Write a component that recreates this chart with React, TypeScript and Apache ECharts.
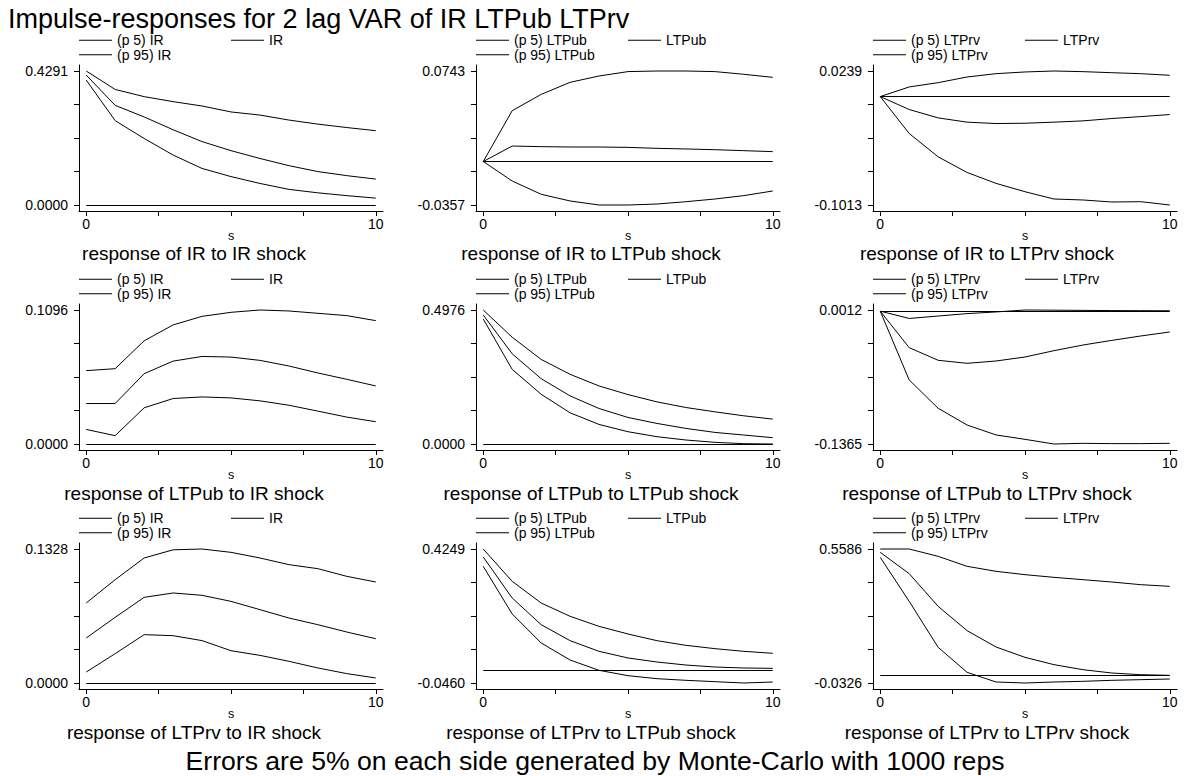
import { useEffect, useRef } from "react";
import * as echarts from "echarts";

// ---------- data ----------
const steps = [0, 1, 2, 3, 4, 5, 6, 7, 8, 9, 10];
const impulses = ["IR", "LTPub", "LTPrv"];
const responses = ["IR", "LTPub", "LTPrv"];

const mainTitle = "Impulse-responses for 2 lag VAR of IR LTPub LTPrv";
const footnote = "Errors are 5% on each side generated by Monte-Carlo with 1000 reps";

// response of IR
const irToIrLow = [0.4, 0.27, 0.213, 0.16, 0.117, 0.091, 0.069, 0.05, 0.039, 0.03, 0.022];
const irToIrMid = [0.416, 0.319, 0.282, 0.241, 0.203, 0.174, 0.149, 0.126, 0.107, 0.094, 0.083];
const irToIrHigh = [0.4291, 0.37, 0.347, 0.331, 0.317, 0.298, 0.288, 0.272, 0.259, 0.248, 0.238];

const irToLtpubLow = [0, -0.016, -0.0269, -0.0324, -0.0357, -0.0357, -0.0349, -0.033, -0.0308, -0.028, -0.0242];
const irToLtpubMid = [0, 0.0127, 0.0122, 0.0119, 0.0119, 0.0116, 0.0108, 0.0103, 0.0097, 0.0089, 0.0081];
const irToLtpubHigh = [0, 0.0417, 0.0551, 0.065, 0.0702, 0.0738, 0.0743, 0.0743, 0.0738, 0.0716, 0.0691];

const irToLtprvLow = [0, -0.0345, -0.0563, -0.0709, -0.0811, -0.0889, -0.0957, -0.0966, -0.0985, -0.0982, -0.1013];
const irToLtprvMid = [0, -0.0121, -0.0199, -0.0239, -0.0252, -0.0249, -0.0239, -0.0227, -0.0205, -0.0187, -0.0168];
const irToLtprvHigh = [0, 0.009, 0.013, 0.0183, 0.0214, 0.023, 0.0239, 0.0233, 0.0223, 0.0214, 0.0199];

// response of LTPub
const ltpubToIrLow = [0.0119, 0.0068, 0.0296, 0.0372, 0.0385, 0.0377, 0.0353, 0.0317, 0.0269, 0.022, 0.0182];
const ltpubToIrMid = [0.0331, 0.0331, 0.0575, 0.0678, 0.0716, 0.0711, 0.0684, 0.0638, 0.0581, 0.0529, 0.0475];
const ltpubToIrHigh = [0.06, 0.0616, 0.0844, 0.0974, 0.1044, 0.1077, 0.1096, 0.1088, 0.1069, 0.105, 0.1009];

const ltpubToLtpubLow = [0.4643, 0.2771, 0.1847, 0.1158, 0.0727, 0.0456, 0.0271, 0.0148, 0.0062, 0.0012, 0.0];
const ltpubToLtpubMid = [0.4791, 0.335, 0.2426, 0.1786, 0.1318, 0.0985, 0.0764, 0.0579, 0.0431, 0.0333, 0.0234];
const ltpubToLtpubHigh = [0.4976, 0.3966, 0.3141, 0.2587, 0.2155, 0.1835, 0.1564, 0.1355, 0.1195, 0.1047, 0.0924];

const ltpubToLtprvLow = [0, -0.0707, -0.0998, -0.117, -0.1272, -0.1317, -0.1365, -0.1358, -0.1361, -0.1361, -0.1358];
const ltpubToLtprvMid = [0, -0.0375, -0.0505, -0.0536, -0.0512, -0.0471, -0.0406, -0.0348, -0.03, -0.0255, -0.0214];
const ltpubToLtprvHigh = [0, -0.0075, -0.005, -0.0025, -0.0008, 0.0012, 0.001, 0.0008, 0.0006, 0.0005, 0.0004];

// response of LTPrv
const ltprvToIrLow = [0.0109, 0.0291, 0.0479, 0.0469, 0.042, 0.032, 0.0274, 0.0215, 0.0149, 0.0093, 0.005];
const ltprvToIrMid = [0.0446, 0.0651, 0.0849, 0.0892, 0.0869, 0.0809, 0.0727, 0.0644, 0.0578, 0.0505, 0.0439];
const ltprvToIrHigh = [0.0793, 0.1024, 0.1239, 0.132, 0.1328, 0.1295, 0.1239, 0.1173, 0.1133, 0.1057, 0.1001];

const ltprvToLtpubLow = [0.364, 0.1965, 0.0946, 0.0348, -0.0015, -0.0202, -0.0308, -0.0366, -0.0413, -0.046, -0.0425];
const ltprvToLtpubMid = [0.3968, 0.2527, 0.159, 0.1028, 0.0653, 0.0419, 0.0278, 0.0172, 0.0102, 0.0067, 0.0055];
const ltprvToLtpubHigh = [0.4249, 0.3113, 0.2351, 0.1883, 0.1531, 0.1262, 0.1028, 0.0864, 0.0747, 0.0653, 0.0583];

const ltprvToLtprvLow = [0.5218, 0.3277, 0.1248, 0.0145, -0.0282, -0.0326, -0.0282, -0.0252, -0.0208, -0.0179, -0.015];
const ltprvToLtprvMid = [0.5439, 0.4498, 0.3056, 0.1983, 0.1262, 0.0806, 0.0483, 0.0262, 0.0115, 0.004, 0.0012];
const ltprvToLtprvHigh = [0.5586, 0.5586, 0.5262, 0.4821, 0.4601, 0.4454, 0.4336, 0.4233, 0.413, 0.4012, 0.3939];

// y tick labels (min / max) per panel, row-major
const yTickMin = [0.0, -0.0357, -0.1013, 0.0, 0.0, -0.1365, 0.0, -0.046, -0.0326];
const yTickMax = [0.4291, 0.0743, 0.0239, 0.1096, 0.4976, 0.0012, 0.1328, 0.4249, 0.5586];
const xTickValues = [0, 2.5, 5, 7.5, 10];
const xTickLabels = [0, 10];
const zeroLine = 0;

const panelLow = [irToIrLow, irToLtpubLow, irToLtprvLow, ltpubToIrLow, ltpubToLtpubLow, ltpubToLtprvLow, ltprvToIrLow, ltprvToLtpubLow, ltprvToLtprvLow];
const panelMid = [irToIrMid, irToLtpubMid, irToLtprvMid, ltpubToIrMid, ltpubToLtpubMid, ltpubToLtprvMid, ltprvToIrMid, ltprvToLtpubMid, ltprvToLtprvMid];
const panelHigh = [irToIrHigh, irToLtpubHigh, irToLtprvHigh, ltpubToIrHigh, ltpubToLtpubHigh, ltpubToLtprvHigh, ltprvToIrHigh, ltprvToLtpubHigh, ltprvToLtprvHigh];

// ---------- layout ----------
const FONT = "'Liberation Sans', Arial, Helvetica, sans-serif";
const colLeft = [79, 476, 873];
const rowTop = [65, 304, 543];
const gridW = 304;
const gridH = 146;
const padFrac = 6 / 134;
const titleCenters = [194, 591, 987];
const titleTops = [244, 483.5, 723];

function buildOption() {
  const grid: any[] = [];
  const xAxis: any[] = [];
  const yAxis: any[] = [];
  const series: any[] = [];
  const legend: any[] = [];
  const title: any[] = [
    {
      text: mainTitle,
      left: 8,
      top: 5.5,
      padding: 0,
      textVerticalAlign: "top",
      textStyle: { fontSize: 27, lineHeight: 27, fontWeight: "normal", color: "#000", fontFamily: FONT },
    },
    {
      text: footnote,
      left: 595,
      top: 747.5,
      padding: 0,
      textAlign: "center",
      textVerticalAlign: "top",
      textStyle: { fontSize: 26.6, lineHeight: 26.6, fontWeight: "normal", color: "#000", fontFamily: FONT },
    },
  ];

  for (let i = 0; i < 9; i++) {
    const r = Math.floor(i / 3);
    const c = i % 3;
    const imp = impulses[c];
    const resp = responses[r];
    const left = colLeft[c];
    const top = rowTop[r];
    const lo = yTickMin[i];
    const hi = yTickMax[i];
    const pad = (hi - lo) * padFrac;
    const q = (hi - lo) / 4;

    grid.push({ left, top, width: gridW, height: gridH, containLabel: false, outerBoundsMode: "none" });

    xAxis.push({
      type: "value",
      gridIndex: i,
      min: -0.25,
      max: 10.25,
      axisLine: { show: true, onZero: false, lineStyle: { color: "#000", width: 1 } },
      axisTick: { show: true, length: 5, customValues: xTickValues, lineStyle: { color: "#000", width: 1 } },
      axisLabel: {
        show: true,
        customValues: xTickLabels,
        margin: 6,
        fontSize: 14,
        color: "#000",
        fontFamily: FONT,
        formatter: (v: number) => String(v),
      },
      splitLine: { show: false },
      name: "s",
      nameLocation: "middle",
      nameGap: 18.5,
      nameMoveOverlap: false,
      nameTextStyle: { fontSize: 12.5, lineHeight: 12, color: "#000", fontFamily: FONT },
    });

    yAxis.push({
      type: "value",
      gridIndex: i,
      min: lo - pad,
      max: hi + pad,
      axisLine: { show: true, onZero: false, lineStyle: { color: "#000", width: 1 } },
      axisTick: {
        show: true,
        length: 5,
        customValues: [lo, lo + q, lo + 2 * q, lo + 3 * q, hi],
        lineStyle: { color: "#000", width: 1 },
      },
      axisLabel: {
        show: true,
        customValues: [lo, hi],
        margin: 11,
        fontSize: 14,
        color: "#000",
        fontFamily: FONT,
        formatter: (v: number) => v.toFixed(4),
      },
      splitLine: { show: false },
    });

    const mk = (name: string, arr: number[], extra: any = {}) => ({
      type: "line",
      name,
      xAxisIndex: i,
      yAxisIndex: i,
      data: steps.map((s, k) => [s, arr[k]]),
      symbol: "none",
      color: "#000",
      lineStyle: { color: "#000", width: 1 },
      itemStyle: { color: "#000" },
      silent: true,
      ...extra,
    });

    series.push(mk(`(p 5) ${imp}`, panelLow[i]));
    series.push(
      mk(imp, panelMid[i], {
        markLine: {
          silent: true,
          symbol: ["none", "none"],
          label: { show: false },
          lineStyle: { color: "#000", width: 1, type: "solid" },
          emphasis: { disabled: true },
          data: [[{ coord: [steps[0], zeroLine] }, { coord: [steps[steps.length - 1], zeroLine] }]],
        },
      })
    );
    series.push(mk(`(p 95) ${imp}`, panelHigh[i]));

    const legendCommon = {
      orient: "vertical",
      top: top - 31.7,
      padding: 0,
      itemGap: 0.4,
      itemWidth: 33,
      itemHeight: 12,
      icon: "path://M0,0H33V1H0Z",
      selectedMode: false,
      textStyle: { fontSize: 14, lineHeight: 12, color: "#000", fontFamily: FONT },
    };
    legend.push({ ...legendCommon, left, data: [`(p 5) ${imp}`, `(p 95) ${imp}`] });
    legend.push({ ...legendCommon, left: left + 152, data: [imp] });

    title.push({
      text: `response of ${resp} to ${imp} shock`,
      left: titleCenters[c],
      top: titleTops[r],
      padding: 0,
      textAlign: "center",
      textVerticalAlign: "top",
      textStyle: { fontSize: 19, lineHeight: 19, fontWeight: "normal", color: "#000", fontFamily: FONT },
    });
  }

  return {
    animation: false,
    backgroundColor: "#fff",
    textStyle: { fontFamily: FONT, color: "#000" },
    title,
    legend,
    grid,
    xAxis,
    yAxis,
    series,
    tooltip: { show: false },
  };
}

export default function App() {
  const ref = useRef<HTMLDivElement>(null);
  useEffect(() => {
    document.body.style.margin = "0";
    document.body.style.padding = "0";
    if (!ref.current) return;
    const chart = echarts.init(ref.current, null, { renderer: "svg" });
    chart.setOption(buildOption() as any);
    return () => chart.dispose();
  }, []);
  return (
    <div style={{ position: "fixed", left: 0, top: 0, width: 1184, height: 776, overflow: "hidden", background: "#fff" }}>
      <div ref={ref} style={{ position: "absolute", left: 0, top: 0, width: 1184, height: 776 }} />
    </div>
  );
}
